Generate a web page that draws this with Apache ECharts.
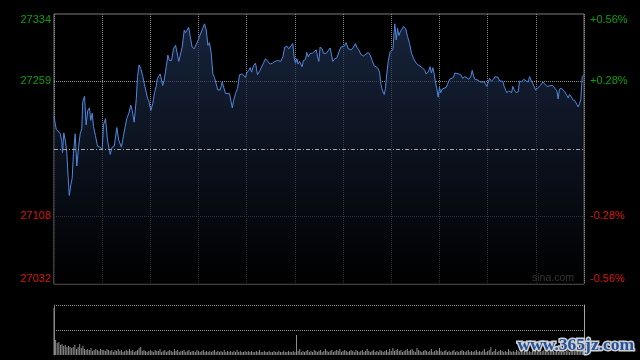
<!DOCTYPE html>
<html><head><meta charset="utf-8">
<script src="https://cdn.jsdelivr.net/npm/echarts@6/dist/echarts.min.js"></script>
<style>html,body{margin:0;padding:0;background:#000;}#c{width:640px;height:360px;}</style>
</head><body><div id="c"></div>
<script>
// minutes since the open (0..330) and index level
const minutes = [0,1.4,2.6,3.9,4.9,5.3,6.1,7.2,8.0,8.8,9.5,10.5,11.3,12.1,13.2,14.2,15.3,16.3,17.3,17.9,19.0,20.0,21.0,22.1,22.9,23.8,24.6,25.8,27.1,28.8,30.0,30.8,32.1,33.3,35.0,36.2,37.5,39.1,40.3,42.0,43.7,45.3,46.6,47.8,48.7,49.9,51.2,52.0,53.0,54.0,55.3,56.2,57.4,58.2,59.0,60.3,61.5,62.6,63.6,64.4,65.3,66.1,67.1,67.7,68.6,69.9,70.9,71.9,73.2,74.4,75.7,76.5,77.7,78.8,79.8,81.1,81.9,82.7,83.9,84.8,86.0,87.3,88.5,89.8,90.6,91.8,92.6,93.7,94.8,95.8,96.8,97.9,98.9,99.9,101.0,102.0,103.5,104.7,105.5,106.8,108.0,109.3,110.1,111.0,111.8,113.0,114.3,115.5,117.2,118.4,119.2,120.0,121.3,122.2,123.0,124.2,125.5,126.7,128.0,129.2,130.4,131.7,132.9,134.6,136.0,137.5,139.2,141.2,142.5,143.7,145.0,146.2,147.4,148.7,149.6,150.4,151.2,152.0,152.9,153.7,154.5,155.3,156.6,157.4,158.3,159.5,160.8,162.0,163.3,164.1,164.9,165.7,167.0,167.8,169.5,170.7,172.0,172.8,173.6,174.8,176.1,177.3,178.6,179.8,180.7,181.9,183.2,184.0,185.2,186.5,187.7,188.5,189.8,191.0,192.7,193.9,195.6,196.9,198.1,199.4,200.6,201.4,202.7,203.5,204.4,205.6,206.4,207.2,208.1,209.3,210.1,211.0,211.8,212.2,213.1,213.9,214.7,215.6,216.4,217.6,218.9,220.1,221.4,222.6,223.9,224.7,225.5,226.8,228.0,229.3,230.1,230.9,231.7,233.0,234.2,235.0,235.9,236.7,237.5,238.3,239.2,240.0,240.8,241.7,242.9,244.2,245.4,246.3,247.5,248.7,249.6,250.8,252.0,253.3,254.5,255.8,257.0,258.3,259.5,260.4,261.2,262.0,263.2,264.1,265.4,266.6,267.9,268.7,269.5,270.4,271.2,272.4,273.7,274.5,275.3,276.6,277.4,278.6,279.4,280.3,281.1,281.9,283.2,284.0,284.9,285.7,286.6,287.8,289.1,289.8,291.1,292.4,293.1,294.0,295.3,296.1,297.3,298.1,299.0,299.8,301.0,302.3,303.5,304.4,305.6,306.9,308.1,309.3,310.6,311.8,313.1,313.9,314.7,316.0,317.2,318.0,319.3,320.2,321.0,322.2,323.0,324.3,325.5,326.4,327.2,328.0,328.9,330];
const prices = [27219,27205,27204,27200,27191,27179,27201,27191,27178,27152,27131,27143,27150,27178,27200,27164,27185,27200,27206,27236,27242,27210,27226,27229,27215,27223,27208,27198,27186,27185,27182,27210,27217,27193,27177,27185,27186,27207,27193,27185,27202,27217,27223,27232,27226,27213,27238,27264,27277,27273,27264,27256,27256,27240,27237,27226,27234,27246,27253,27262,27260,27267,27266,27254,27260,27275,27288,27282,27282,27295,27299,27297,27281,27282,27297,27316,27313,27311,27319,27309,27297,27295,27297,27305,27309,27311,27318,27323,27316,27299,27302,27290,27267,27263,27261,27249,27249,27258,27256,27245,27247,27245,27246,27229,27237,27245,27251,27266,27267,27267,27263,27268,27271,27274,27269,27276,27279,27266,27270,27269,27279,27284,27282,27278,27279,27281,27282,27281,27286,27297,27298,27295,27294,27301,27284,27279,27284,27278,27281,27279,27275,27282,27283,27291,27286,27290,27290,27292,27294,27286,27281,27297,27295,27290,27290,27289,27296,27288,27281,27284,27285,27286,27297,27299,27298,27302,27295,27293,27294,27297,27301,27297,27294,27289,27287,27289,27291,27288,27282,27276,27274,27274,27269,27256,27249,27244,27251,27267,27281,27292,27293,27294,27314,27323,27305,27318,27310,27314,27312,27320,27318,27309,27301,27290,27284,27285,27279,27277,27277,27274,27276,27271,27267,27269,27275,27268,27274,27267,27258,27251,27241,27252,27246,27250,27250,27252,27257,27261,27261,27263,27268,27267,27267,27266,27262,27264,27263,27261,27264,27271,27265,27261,27262,27260,27258,27256,27258,27256,27253,27251,27262,27259,27261,27264,27265,27263,27259,27259,27259,27253,27251,27246,27248,27250,27246,27253,27249,27246,27247,27259,27258,27261,27263,27259,27258,27264,27259,27258,27253,27249,27250,27253,27254,27258,27256,27253,27254,27254,27254,27251,27248,27239,27250,27251,27250,27247,27243,27240,27244,27241,27238,27237,27233,27230,27234,27238,27264,27266];
// volume per minute (relative units)
const volumes = [47,
15,12,13,10,11,9,10,8,9,8,
7,8,10,6,8,11,7,9,6,5,
6,5,7,4,5,6,5,4,6,5,
5,4,6,5,4,5,3,5,4,6,
4,5,3,4,5,4,6,4,5,3,
4,5,7,8,4,5,4,3,4,5,
4,3,5,4,4,6,3,4,5,3,
4,5,4,3,6,4,5,3,4,4,
5,3,4,5,3,4,4,3,5,4,
3,4,5,3,4,3,4,3,4,5,
3,4,3,4,3,5,3,4,3,4,
3,4,3,5,3,4,3,3,4,3,
4,3,4,3,3,4,3,5,3,3,
4,3,3,4,3,3,4,3,3,4,
3,3,4,3,3,4,3,3,4,3,
20,4,6,3,4,3,4,5,3,4,
3,5,4,3,4,5,3,4,6,4,
3,4,5,3,4,5,4,6,3,4,
5,4,3,4,5,4,3,5,4,3,
4,5,3,4,6,4,3,4,5,3,
4,3,5,4,3,4,5,3,6,4,
7,4,5,6,4,5,3,4,5,6,
4,5,6,4,3,7,5,4,3,4,
5,4,3,4,6,3,4,5,4,7,
4,3,4,5,3,4,3,4,5,3,
4,3,4,5,4,3,4,5,3,4,
3,4,5,3,4,3,4,6,3,4,
5,8,3,4,6,3,4,5,4,3,
4,3,6,4,3,4,3,5,4,3,
4,3,4,5,3,4,3,4,3,5,
3,4,3,4,5,3,4,3,4,3,
4,3,5,3,4,3,4,3,4,5,
3,4,3,4,5,4,3,4,6,5];
const basePrice = 27183;
const priceMin = 27032, priceMax = 27334;
const priceTicks = [27032, 27108, 27259, 27334];
const priceGridTicks = [27108, 27259];
const pctLabels = {27032:'-0.56%', 27108:'-0.28%', 27259:'+0.28%', 27334:'+0.56%'};
const minuteMax = 330, minuteStep = 30;
const volMax = 50, volTicks = [25, 50];

const chart = echarts.init(document.getElementById('c'), null, {renderer:'canvas'});
const FONT = 'Liberation Sans, Arial, sans-serif';
const upDown = v => Number(v) > basePrice ? '#0aa00a' : '#e0140a';
const dotted = {color:'#8c8c8c', type:[1,1], width:1};
chart.setOption({
  backgroundColor:'#000',
  animation:false,
  grid:[
    {left:54, right:56, top:14, height:270, show:true, borderColor:'#7c7c7c', borderWidth:1, backgroundColor:'transparent'},
    {left:54, right:56, top:305, height:50}
  ],
  xAxis:[
    {type:'value', gridIndex:0, min:0, max:minuteMax, interval:minuteStep,
     axisLine:{show:false}, axisTick:{show:false}, axisLabel:{show:false},
     splitLine:{show:true, lineStyle:dotted}},
    {type:'value', gridIndex:1, min:0, max:minuteMax,
     axisLine:{show:false}, axisTick:{show:false}, axisLabel:{show:false}, splitLine:{show:false}}
  ],
  yAxis:[
    {type:'value', gridIndex:0, position:'left', min:priceMin, max:priceMax,
     axisLine:{show:false}, axisTick:{show:false, customValues:priceGridTicks},
     axisLabel:{show:true, customValues:priceTicks, fontSize:11, fontFamily:FONT, margin:3,
       color:upDown, formatter:v=>String(v),
       verticalAlignMinLabel:'bottom', verticalAlignMaxLabel:'top'},
     splitLine:{show:true, lineStyle:dotted}},
    {type:'value', gridIndex:0, position:'right', min:priceMin, max:priceMax,
     axisLine:{show:false}, axisTick:{show:false, customValues:priceTicks},
     axisLabel:{show:true, customValues:priceTicks, fontSize:11, fontFamily:FONT, margin:6,
       color:upDown, formatter:v=>pctLabels[Math.round(v)],
       verticalAlignMinLabel:'bottom', verticalAlignMaxLabel:'top'},
     splitLine:{show:false}},
    {type:'value', gridIndex:1, position:'left', min:0, max:volMax,
     axisLine:{show:true, lineStyle:{color:'#7c7c7c', width:1}}, axisTick:{show:false, customValues:volTicks},
     axisLabel:{show:false}, splitLine:{show:true, lineStyle:dotted}},
    {type:'value', gridIndex:1, position:'right', min:0, max:volMax,
     axisLine:{show:true, lineStyle:{color:'#a8a8a8', width:1}}, axisTick:{show:false},
     axisLabel:{show:false}, splitLine:{show:false}}
  ],
  series:[
    {type:'line', xAxisIndex:0, yAxisIndex:0,
     data:minutes.map((m,i)=>[m, prices[i]]),
     showSymbol:false, symbol:'none', silent:true,
     lineStyle:{color:'#4f88de', width:1},
     areaStyle:{origin:'start', color:new echarts.graphic.LinearGradient(0,0,0,1,[
       {offset:0, color:'#213254'}, {offset:1, color:'#000000'}])},
     markLine:{silent:true, symbol:'none', label:{show:false},
       lineStyle:{color:'#a6a6a6', type:[4,2,1,2], width:1},
       data:[{yAxis:basePrice}]}
    },
    {type:'bar', xAxisIndex:1, yAxisIndex:2,
     data:volumes.map((v,i)=>[i, v]), barWidth:1, silent:true,
     itemStyle:{color:'#8e8e8e'}}
  ],
  graphic:[
    {type:'text', left:532, top:273, silent:true,
     style:{text:'sina.com', fill:'#a8a8a8', font:'10.5px '+FONT}},
    {type:'text', left:516, top:335, silent:true, z:100,
     style:{text:'www.365jz.com', fill:'#23519c', stroke:'#d0d0d0', lineWidth:3,
       font:'bold 17.5px "Liberation Serif", serif'}}
  ]
});
</script></body></html>
